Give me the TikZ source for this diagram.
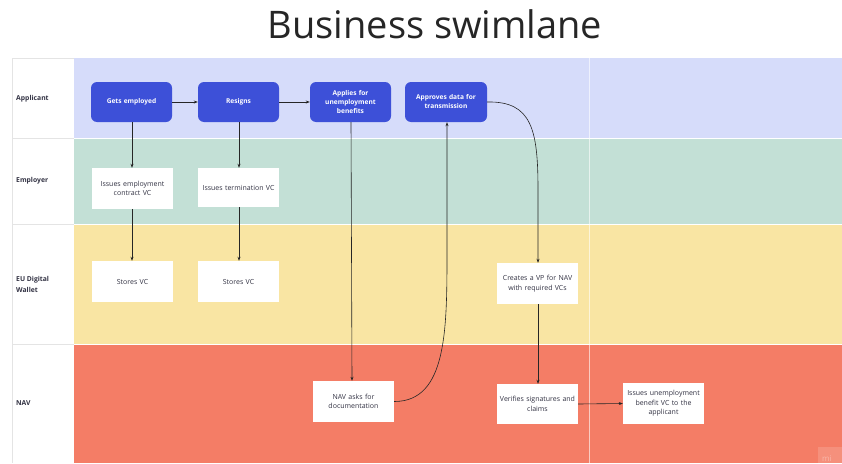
\documentclass[tikz,border=0pt]{standalone}
\usepackage{fontspec}
\setmainfont{Open Sans}
\usetikzlibrary{arrows.meta,calc}
\definecolor{laneA}{HTML}{D6DCFA}
\definecolor{laneE}{HTML}{C3E0D6}
\definecolor{laneW}{HTML}{F9E5A3}
\definecolor{laneN}{HTML}{F47D66}
\definecolor{bluebox}{HTML}{3D50D8}
\definecolor{txtdark}{HTML}{333344}
\definecolor{gridline}{HTML}{E4E4E4}
\tikzset{
  bluestep/.style={draw=none,fill=bluebox,rounded corners=6pt,minimum width=81pt,minimum height=40pt,text width=72pt,align=center,text=white,font=\bfseries\fontsize{6.6}{9}\selectfont,inner sep=0pt},
  whitestep/.style={draw=none,fill=white,minimum width=81pt,minimum height=41pt,text width=78pt,align=center,text=txtdark,font=\fontsize{7}{9.5}\selectfont,inner sep=0pt},
  lanelabel/.style={anchor=west,align=left,font=\bfseries\fontsize{6.8}{11}\selectfont,text=txtdark,inner sep=0pt},
  flow/.style={draw=black!85,line width=0.6pt,-{Stealth[length=4pt,width=3pt]}}
}
\begin{document}
\begin{tikzpicture}[x=1pt,y=-1pt]
\useasboundingbox (0,0) rectangle (842,463);
\fill[white] (0,0) rectangle (842,463);
% title
\node[font=\fontsize{38}{42}\selectfont,text=black!85] (title) at (435,24) {Business swimlane};
% lanes
\fill[laneA] (74,58) rectangle (842,138);
\fill[laneE] (74,138) rectangle (842,224);
\fill[laneW] (74,224) rectangle (842,344);
\fill[laneN] (74,344) rectangle (842,463);
\draw[white,line width=0.6pt] (74,138) -- (842,138) (74,224) -- (842,224) (74,344) -- (842,344);
\draw[white,opacity=0.6,line width=0.8pt] (589,58) -- (589,463);
% label column
\draw[gridline,line width=0.6pt] (12,58) -- (74,58) (12,138) -- (74,138) (12,224) -- (74,224) (12,344) -- (74,344) (12,58) -- (12,463);
\node[lanelabel] (lA) at (16,99) {Applicant};
\node[lanelabel] (lE) at (16,181) {Employer};
\node[lanelabel] (lW) at (16,284) {EU Digital\\Wallet};
\node[lanelabel] (lN) at (16,403) {NAV};
% nodes
\node[bluestep] (ge) at (131.5,102) {Gets employed};
\node[bluestep] (rs) at (238.5,102) {Resigns};
\node[bluestep] (ap) at (350.5,102) {Applies for\\unemployment\\benefits};
\node[bluestep,minimum width=82pt] (ad) at (446,102) {Approves data for\\transmission};
\node[whitestep] (ie) at (132.5,188.5) {Issues employment\\contract VC};
\node[whitestep,minimum height=39pt] (it) at (238.5,187.5) {Issues termination VC};
\node[whitestep] (s1) at (132.5,281.5) {Stores VC};
\node[whitestep] (s2) at (238.5,281.5) {Stores VC};
\node[whitestep] (cv) at (537.5,283.5) {Creates a VP for NAV\\with required VCs};
\node[whitestep] (na) at (353.5,401.5) {NAV asks for\\documentation};
\node[whitestep,minimum height=40pt] (vs) at (537.5,404) {Verifies signatures and\\claims};
\node[whitestep] (iu) at (663.5,403.5) {Issues unemployment\\benefit VC to the\\applicant};
% connectors
\draw[flow] (ge) -- (rs);
\draw[flow] (rs) -- (ap);
\draw[flow] (ge.south -| 132,0) -- (ie.north -| 132,0);
\draw[flow] (rs.south -| 239,0) -- (it.north -| 239,0);
\draw[flow] (ie.south -| 132,0) -- (s1.north -| 132,0);
\draw[flow] (it.south -| 239,0) -- (s2.north -| 239,0);
\draw[flow] (ap.south -| 351,0) -- (na.north -| 352,0);
\draw[flow] (na.east) .. controls (447,401.5) and (447,330) .. (447,250) -- (ad.south -| 447,0);
\draw[flow] (ad.east) .. controls (532,101) and (538,130) .. (538,190) -- (cv.north -| 538,0);
\draw[flow] (cv.south -| 538,0) -- (vs.north -| 538,0);
\draw[flow] (vs.east) -- (iu.west);
% watermark
\fill[white,opacity=0.15] (818,447) rectangle (842,463);
\node[anchor=south west,inner sep=0pt,text=white,opacity=0.35,font=\fontsize{8}{8}\selectfont] (wm) at (822,461.5) {mi};
\end{tikzpicture}
\end{document}
